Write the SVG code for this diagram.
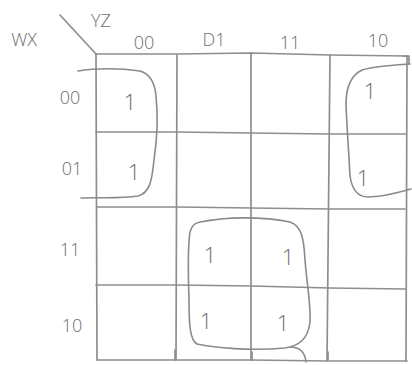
<svg xmlns="http://www.w3.org/2000/svg" width="412" height="365" viewBox="0 0 412 365">
<style>
.ln{stroke:#8e8e8e;stroke-width:1.7;fill:none;stroke-linecap:round;stroke-linejoin:round}
.lp{stroke:#8a8a8a;stroke-width:1.6;fill:none;stroke-linecap:round;stroke-linejoin:round}
.t{font-family:"Open Sans","Liberation Sans",sans-serif;font-weight:300;fill:#6e6e6e;font-size:18px;text-anchor:middle}
.one{font-family:"Open Sans","Liberation Sans",sans-serif;font-weight:300;fill:#6e6e6e;font-size:22px;text-anchor:middle}
</style>
<rect width="412" height="365" fill="#ffffff"/>
<g id="grid">
<path class="ln" d="M60 15 L96 54"/>
<path class="ln" d="M96 54 L177 54 L251 53 L330 55 L407 56"/>
<path class="ln" d="M96 132 L177 132 L251 133 L330 134 L406 134"/>
<path class="ln" d="M97 207 L177 207 L251 208 L330 209 L405 209"/>
<path class="ln" d="M96 285 L177 285 L251 286 L330 288 L405 289"/>
<path class="ln" d="M97 360 L177 360 L251 360 L330 361 L407 361"/>
<path class="ln" d="M96 54 L97 360"/>
<path class="ln" d="M177 55 L176 360"/>
<path class="ln" d="M251 53 L251 360"/>
<path class="ln" d="M330 55 L327 361"/>
<path class="ln" d="M407 56 L406 361"/>
<path class="ln" d="M175 350 L175 360 M252 352 L252 360 M328 352 L328 360"/>
<path class="ln" d="M403 56 L409 56 L409 64"/>
</g>
<g id="labels">
<text class="t" x="24" y="46">WX</text>
<text class="t" x="101" y="27">YZ</text>
<text class="t" x="144" y="49">00</text>
<text class="t" x="214" y="46">D1</text>
<text class="t" x="290" y="49">11</text>
<text class="t" x="378" y="47">10</text>
<text class="t" x="70" y="104">00</text>
<text class="t" x="72" y="175">01</text>
<text class="t" x="70" y="256">11</text>
<text class="t" x="72" y="332">10</text>
</g>
<g id="ones">
<text class="one" x="130" y="110">1</text>
<text class="one" x="134" y="180">1</text>
<text class="one" x="370" y="99">1</text>
<text class="one" x="363" y="186">1</text>
<text class="one" x="210" y="263">1</text>
<text class="one" x="288" y="265">1</text>
<text class="one" x="206" y="329">1</text>
<text class="one" x="283" y="331">1</text>
</g>
<g id="loops">
<path class="lp" d="M78 71 C95 68 120 68 140 71 C150 74 155 84 156 96 C158 115 157 140 154 160 C152 180 150 193 138 196 C120 199 95 197 81 198"/>
<path class="lp" d="M410 64 C395 65 375 66 362 70 C350 76 346 90 346 104 C347 130 349 155 350 176 C352 190 358 197 368 197 C385 197 400 192 411 189"/>
<path class="lp" d="M200 222 C225 217 260 216 290 222 C302 226 304 240 305 260 C307 285 311 305 310 322 C308 340 298 346 285 348 C250 351 215 348 197 344 C190 340 189 325 189 300 C188 270 188 245 190 232 C192 225 195 223 200 222 Z"/>
<path class="lp" d="M290 347 C300 347 305 352 306 362"/>
</g>
</svg>
